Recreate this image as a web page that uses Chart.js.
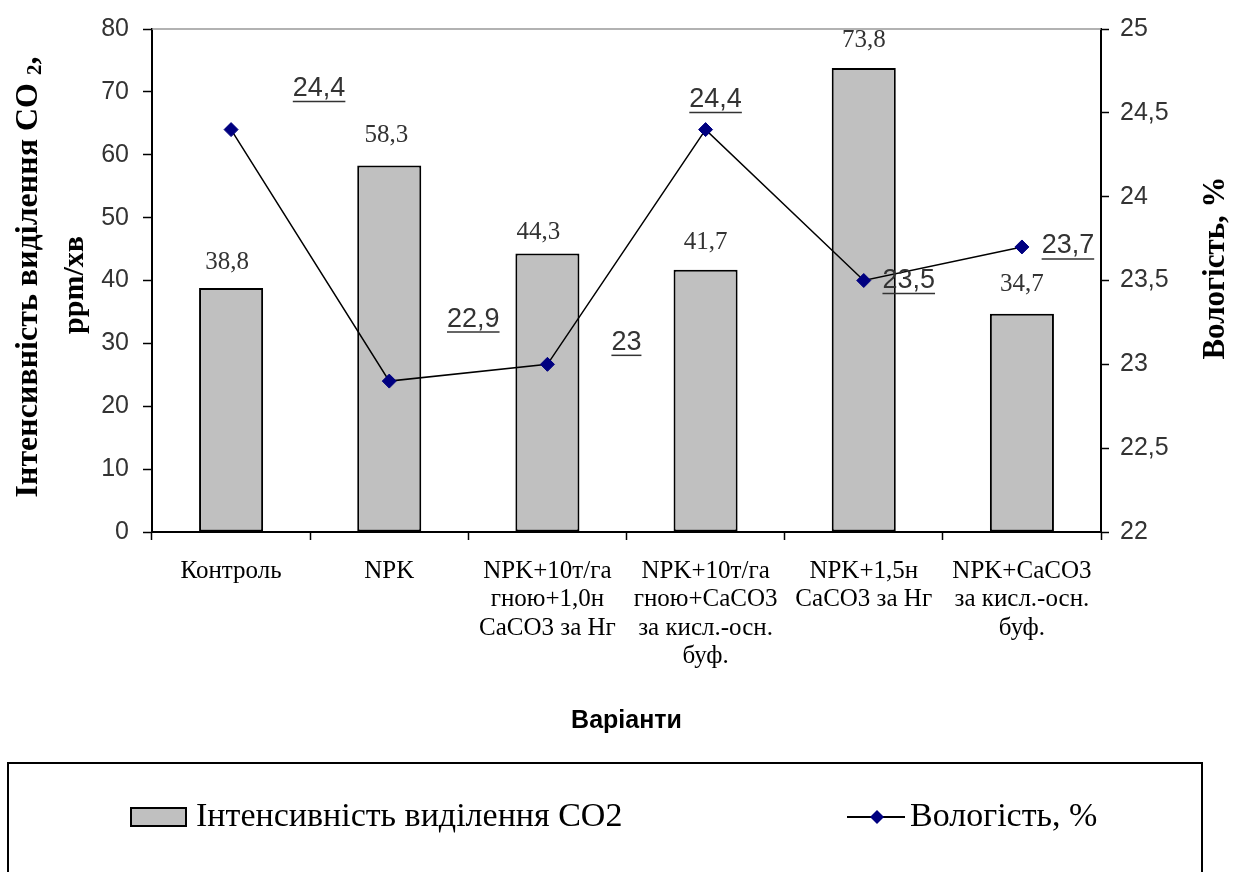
<!DOCTYPE html>
<html>
<head>
<meta charset="utf-8">
<script src="https://cdn.jsdelivr.net/npm/chart.js@4.4.1/dist/chart.umd.min.js"></script>
<style>
  html, body { margin: 0; padding: 0; background: #fff; }
  canvas { display: block; }
</style>
</head>
<body>
<canvas id="chart" width="1242" height="872"></canvas>
<script>
// Варіанти досліду (підписи осі X, багаторядкові)
const categories = [
  ['Контроль'],
  ['NPK'],
  ['NPK+10т/га', 'гною+1,0н', 'CaCO3 за Нг'],
  ['NPK+10т/га', 'гною+CaCO3', 'за кисл.-осн.', 'буф.'],
  ['NPK+1,5н', 'CaCO3 за Нг'],
  ['NPK+CaCO3', 'за кисл.-осн.', 'буф.']
];

// Інтенсивність виділення CO2, ppm/хв
const co2Values = [38.8, 58.3, 44.3, 41.7, 73.8, 34.7];

// Вологість, %
const moistureValues = [24.4, 22.9, 23.0, 24.4, 23.5, 23.7];

// Поділки осей
const co2Ticks = [0, 10, 20, 30, 40, 50, 60, 70, 80];
const moistureTicks = [22, 22.5, 23, 23.5, 24, 24.5, 25];

// Зсуви підписів значень відносно позначок (px)
const barLabelShift = [[-4, -26], [-3, -30], [-9, -21], [0, -27], [0, -28], [0, -29]];
const lineLabelShift = [[88, -41], [84, -62], [79, -22], [10, -30], [45, 0], [46, -1]];

const SERIF = '"Liberation Serif", "Times New Roman", serif';
const SANS = '"Liberation Sans", Arial, sans-serif';

const fmt = v => String(v).replace('.', ',');

// Підписи значень над стовпцями та біля точок лінії
const valueLabels = {
  id: 'valueLabels',
  afterDatasetsDraw(chart) {
    const ctx = chart.ctx;
    ctx.save();
    const barMeta = chart.getDatasetMeta(1);
    ctx.font = '25px ' + SERIF;
    ctx.fillStyle = '#333';
    ctx.textAlign = 'center';
    ctx.textBaseline = 'middle';
    barMeta.data.forEach((el, i) => {
      const [dx, dy] = barLabelShift[i];
      ctx.fillText(fmt(co2Values[i]), el.x + dx, el.y + dy);
    });

    const lineMeta = chart.getDatasetMeta(0);
    ctx.font = '27px ' + SANS;
    ctx.strokeStyle = '#333';
    ctx.lineWidth = 1.5;
    lineMeta.data.forEach((el, i) => {
      const [dx, dy] = lineLabelShift[i];
      const txt = fmt(moistureValues[i]);
      const x = el.x + dx, y = el.y + dy;
      ctx.fillText(txt, x, y);
      const w = ctx.measureText(txt).width;
      ctx.beginPath();
      ctx.moveTo(x - w / 2, y + 13);
      ctx.lineTo(x + w / 2, y + 13);
      ctx.stroke();
    });
    ctx.restore();
  }
};

// Назви осей, верхня межа області побудови та легенда
const decorations = {
  id: 'decorations',
  afterDraw(chart) {
    const ctx = chart.ctx;
    const area = chart.chartArea;
    ctx.save();

    // верхня межа області побудови
    ctx.strokeStyle = '#999';
    ctx.lineWidth = 1.5;
    ctx.beginPath();
    ctx.moveTo(area.left, area.top);
    ctx.lineTo(area.right, area.top);
    ctx.stroke();

    // ліва назва осі (два рядки)
    ctx.fillStyle = '#000';
    ctx.textBaseline = 'middle';
    ctx.save();
    ctx.translate(29, 277);
    ctx.rotate(-Math.PI / 2);
    const mainTxt = 'Інтенсивність виділення CO';
    const big = 'bold 32px ' + SERIF, small = 'bold 21px ' + SERIF;
    ctx.font = big;
    const wMain = ctx.measureText(mainTxt + ' ').width;
    const wComma = ctx.measureText(',').width;
    ctx.font = small;
    const wSub = ctx.measureText('2').width;
    const x0 = -(wMain + wSub + wComma) / 2;
    ctx.textAlign = 'left';
    ctx.font = big;
    ctx.fillText(mainTxt + ' ', x0, 0);
    ctx.font = small;
    ctx.fillText('2', x0 + wMain, 7);
    ctx.font = big;
    ctx.fillText(',', x0 + wMain + wSub, 0);
    ctx.restore();

    ctx.save();
    ctx.translate(75, 285);
    ctx.rotate(-Math.PI / 2);
    ctx.font = 'bold 30px ' + SERIF;
    ctx.textAlign = 'center';
    ctx.fillText('ppm/хв', 0, 0);
    ctx.restore();

    // права назва осі
    ctx.save();
    ctx.translate(1216, 268);
    ctx.rotate(-Math.PI / 2);
    ctx.font = 'bold 31px ' + SERIF;
    ctx.textAlign = 'center';
    ctx.fillText('Вологість, %', 0, 0);
    ctx.restore();

    // назва осі X
    ctx.font = 'bold 25px ' + SANS;
    ctx.textAlign = 'center';
    ctx.fillText('Варіанти', (area.left + area.right) / 2, 721);

    // легенда
    ctx.strokeStyle = '#000';
    ctx.lineWidth = 2;
    ctx.strokeRect(8, 763, 1194, 130);

    const ly = 817;
    ctx.fillStyle = '#c0c0c0';
    ctx.fillRect(131, ly - 9, 55, 18);
    ctx.strokeStyle = '#000';
    ctx.lineWidth = 2;
    ctx.strokeRect(131, ly - 9, 55, 18);

    ctx.fillStyle = '#000';
    ctx.font = '34px ' + SERIF;
    ctx.textAlign = 'left';
    ctx.fillText(chart.data.datasets[1].label, 196, ly);

    ctx.lineWidth = 2;
    ctx.beginPath();
    ctx.moveTo(847, ly);
    ctx.lineTo(905, ly);
    ctx.stroke();
    ctx.fillStyle = '#000080';
    ctx.beginPath();
    ctx.moveTo(877, ly - 7);
    ctx.lineTo(884, ly);
    ctx.lineTo(877, ly + 7);
    ctx.lineTo(870, ly);
    ctx.closePath();
    ctx.fill();

    ctx.fillStyle = '#000';
    ctx.fillText(chart.data.datasets[0].label, 910, ly);

    ctx.restore();
  }
};

new Chart(document.getElementById('chart'), {
  data: {
    labels: categories,
    datasets: [
      {
        type: 'line',
        label: 'Вологість, %',
        data: moistureValues,
        yAxisID: 'y1',
        order: 0,
        borderColor: '#000',
        borderWidth: 1.5,
        tension: 0,
        fill: false,
        pointStyle: 'rectRot',
        pointRadius: 7,
        pointBackgroundColor: '#000080',
        pointBorderColor: '#000080',
        pointBorderWidth: 1
      },
      {
        type: 'bar',
        label: 'Інтенсивність виділення CO2',
        data: co2Values,
        yAxisID: 'y',
        order: 1,
        backgroundColor: '#c0c0c0',
        borderColor: '#000',
        borderWidth: 2,
        borderSkipped: false,
        categoryPercentage: 1,
        barPercentage: 0.405
      }
    ]
  },
  options: {
    responsive: false,
    animation: false,
    layout: { padding: { top: 24, left: 0, right: 0, bottom: 0 } },
    plugins: {
      legend: { display: false },
      tooltip: { enabled: false }
    },
    scales: {
      x: {
        type: 'category',
        offset: true,
        grid: {
          offset: true,
          drawOnChartArea: false,
          drawTicks: true,
          tickLength: 8,
          color: '#000',
          tickWidth: 1.5
        },
        border: { display: true, color: '#000', width: 2 },
        ticks: {
          autoSkip: false,
          maxRotation: 0,
          minRotation: 0,
          padding: 17,
          color: '#000',
          font: { family: SERIF, size: 25, lineHeight: 1.14 }
        },
        afterFit(scale) { scale.height = 340; }
      },
      y: {
        position: 'left',
        min: 0,
        max: 80,
        afterBuildTicks(scale) { scale.ticks = co2Ticks.map(v => ({ value: v })); },
        grid: {
          drawOnChartArea: false,
          tickLength: 9,
          color: '#000',
          tickWidth: 1.5
        },
        border: { display: true, color: '#000', width: 2 },
        ticks: {
          padding: 14,
          color: '#333',
          font: { family: SANS, size: 25 },
          callback: v => fmt(v)
        },
        afterFit(scale) { scale.width = 152; }
      },
      y1: {
        position: 'right',
        min: 22,
        max: 25,
        afterBuildTicks(scale) { scale.ticks = moistureTicks.map(v => ({ value: v })); },
        grid: {
          drawOnChartArea: false,
          tickLength: 8,
          color: '#000',
          tickWidth: 1.5
        },
        border: { display: true, color: '#000', width: 2 },
        ticks: {
          padding: 11,
          color: '#333',
          font: { family: SANS, size: 25 },
          callback: v => fmt(v)
        },
        afterFit(scale) { scale.width = 141; }
      }
    }
  },
  plugins: [valueLabels, decorations]
});
</script>
</body>
</html>
